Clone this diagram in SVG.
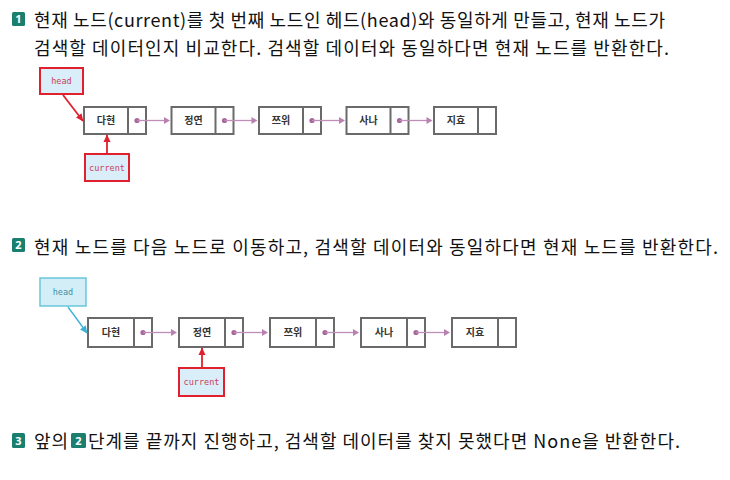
<svg xmlns="http://www.w3.org/2000/svg" width="730" height="480" viewBox="0 0 730 480">
<style>
.body{font-family:"Noto Sans CJK KR","Noto Sans",sans-serif;font-size:18px;fill:#111;}
.badge{fill:#1a7f6e;}
.bnum{font-family:"Noto Sans","DejaVu Sans",sans-serif;font-size:11px;font-weight:bold;fill:#fff;text-anchor:middle;}
.box{fill:#fff;stroke:#6a6a6a;stroke-width:2;}
.div{stroke:#6a6a6a;stroke-width:2;}
.nt{font-family:"Noto Sans CJK KR",sans-serif;font-size:10px;font-weight:bold;fill:#333;text-anchor:middle;}
.dot{fill:#a8679c;}
.link{stroke:#c08cb8;stroke-width:1.3;fill:none;}
.lhead{fill:#b881b0;}
.ptrR{fill:#d9eef8;stroke:#e0202e;stroke-width:2;}
.ptrC{fill:#d3eef7;stroke:#69c6dc;stroke-width:1.5;}
.ptR{font-family:"DejaVu Sans Mono","Liberation Mono",monospace;font-size:8.5px;fill:#c8405e;text-anchor:middle;}
.ptC{font-family:"DejaVu Sans Mono","Liberation Mono",monospace;font-size:8.5px;fill:#3f8fa6;text-anchor:middle;}
.arR{stroke:#e0202e;stroke-width:1.8;fill:none;}
.arC{stroke:#3ab2d6;stroke-width:1.3;fill:none;}
</style>
<defs>
<marker id="mR" markerWidth="8" markerHeight="8" refX="7" refY="4" orient="auto" markerUnits="userSpaceOnUse"><path d="M0,0.5 L7.5,4 L0,7.5 Z" fill="#e0202e"/></marker>
<marker id="mC" markerWidth="8" markerHeight="8" refX="7" refY="4" orient="auto" markerUnits="userSpaceOnUse"><path d="M0,0.5 L7.5,4 L0,7.5 Z" fill="#3ab2d6"/></marker>
</defs>

<!-- texts -->
<g id="step1-text">
<rect class="badge" x="12" y="12" width="13" height="14" rx="1.5"/>
<text class="bnum" x="18.5" y="23">1</text>
<text class="body" x="34" y="27" textLength="631" lengthAdjust="spacing">현재 노드(current)를 첫 번째 노드인 헤드(head)와 동일하게 만들고, 현재 노드가</text>
<text class="body" x="34" y="55" textLength="635" lengthAdjust="spacing">검색할 데이터인지 비교한다. 검색할 데이터와 동일하다면 현재 노드를 반환한다.</text>
</g>
<g id="step2-text">
<rect class="badge" x="12" y="238" width="13" height="14" rx="1.5"/>
<text class="bnum" x="18.5" y="249">2</text>
<text class="body" x="34" y="254" textLength="684" lengthAdjust="spacing">현재 노드를 다음 노드로 이동하고, 검색할 데이터와 동일하다면 현재 노드를 반환한다.</text>
</g>
<g id="step3-text">
<rect class="badge" x="12" y="433" width="13" height="15" rx="1.5"/>
<text class="bnum" x="18.5" y="444.5">3</text>
<text class="body" x="34" y="448" textLength="34" lengthAdjust="spacing">앞의</text>
<rect class="badge" x="71" y="433" width="15" height="15" rx="1.5"/>
<text class="bnum" x="78.5" y="444.5">2</text>
<text class="body" x="88" y="448" textLength="592" lengthAdjust="spacing">단계를 끝까지 진행하고, 검색할 데이터를 찾지 못했다면 None을 반환한다.</text>
</g>

<!-- diagram 1 nodes -->
<g id="d1-n1"><rect class="box" x="84" y="107" width="62" height="27"/><line class="div" x1="128" y1="107" x2="128" y2="134"/><text class="nt" x="106" y="124">다현</text><circle class="dot" cx="137" cy="120.5" r="2.6"/></g>
<g id="d1-n2"><rect class="box" x="171.5" y="107" width="62" height="27"/><line class="div" x1="215.5" y1="107" x2="215.5" y2="134"/><text class="nt" x="193.5" y="124">정연</text><circle class="dot" cx="224.5" cy="120.5" r="2.6"/></g>
<g id="d1-n3"><rect class="box" x="259" y="107" width="62" height="27"/><line class="div" x1="303" y1="107" x2="303" y2="134"/><text class="nt" x="281" y="124">쯔위</text><circle class="dot" cx="312" cy="120.5" r="2.6"/></g>
<g id="d1-n4"><rect class="box" x="346.5" y="107" width="62" height="27"/><line class="div" x1="390.5" y1="107" x2="390.5" y2="134"/><text class="nt" x="368.5" y="124">사나</text><circle class="dot" cx="399.5" cy="120.5" r="2.6"/></g>
<g id="d1-n5"><rect class="box" x="434" y="107" width="62" height="27"/><line class="div" x1="478" y1="107" x2="478" y2="134"/><text class="nt" x="456" y="124">지효</text></g>
<g id="d1-head"><rect class="ptrR" x="40" y="68" width="43" height="26"/><text class="ptR" x="61.5" y="84">head</text></g>
<g id="d1-current"><rect class="ptrR" x="85" y="154" width="44" height="27"/><text class="ptR" x="107" y="170.5">current</text></g>

<!-- diagram 2 nodes -->
<g id="d2-n1"><rect class="box" x="88" y="318" width="64" height="29"/><line class="div" x1="134" y1="318" x2="134" y2="347"/><text class="nt" x="111" y="336">다현</text><circle class="dot" cx="143" cy="332.5" r="2.6"/></g>
<g id="d2-n2"><rect class="box" x="179" y="318" width="64" height="29"/><line class="div" x1="225" y1="318" x2="225" y2="347"/><text class="nt" x="202" y="336">정연</text><circle class="dot" cx="234" cy="332.5" r="2.6"/></g>
<g id="d2-n3"><rect class="box" x="270" y="318" width="64" height="29"/><line class="div" x1="316" y1="318" x2="316" y2="347"/><text class="nt" x="293" y="336">쯔위</text><circle class="dot" cx="325" cy="332.5" r="2.6"/></g>
<g id="d2-n4"><rect class="box" x="361" y="318" width="64" height="29"/><line class="div" x1="407" y1="318" x2="407" y2="347"/><text class="nt" x="384" y="336">사나</text><circle class="dot" cx="416" cy="332.5" r="2.6"/></g>
<g id="d2-n5"><rect class="box" x="452" y="318" width="64" height="29"/><line class="div" x1="498" y1="318" x2="498" y2="347"/><text class="nt" x="475" y="336">지효</text></g>
<g id="d2-head"><rect class="ptrC" x="40" y="278" width="46" height="28"/><text class="ptC" x="63" y="295">head</text></g>
<g id="d2-current"><rect class="ptrR" x="179" y="368" width="45" height="28"/><text class="ptR" x="201.5" y="385">current</text></g>

<!-- connectors -->
<g id="connectors">
<line class="link" x1="137" y1="120.5" x2="165" y2="120.5"/><path class="lhead" d="M164,117 L170,120.5 L164,124 Z"/>
<line class="link" x1="224.5" y1="120.5" x2="252.5" y2="120.5"/><path class="lhead" d="M251.5,117 L257.5,120.5 L251.5,124 Z"/>
<line class="link" x1="312" y1="120.5" x2="340" y2="120.5"/><path class="lhead" d="M339,117 L345,120.5 L339,124 Z"/>
<line class="link" x1="399.5" y1="120.5" x2="427.5" y2="120.5"/><path class="lhead" d="M426.5,117 L432.5,120.5 L426.5,124 Z"/>
<line class="arR" x1="63" y1="95" x2="83" y2="121" marker-end="url(#mR)"/>
<line class="arR" x1="107" y1="153" x2="107" y2="135" marker-end="url(#mR)"/>

<line class="link" x1="143" y1="332.5" x2="172" y2="332.5"/><path class="lhead" d="M171,329 L177,332.5 L171,336 Z"/>
<line class="link" x1="234" y1="332.5" x2="263" y2="332.5"/><path class="lhead" d="M262,329 L268,332.5 L262,336 Z"/>
<line class="link" x1="325" y1="332.5" x2="354" y2="332.5"/><path class="lhead" d="M353,329 L359,332.5 L353,336 Z"/>
<line class="link" x1="416" y1="332.5" x2="445" y2="332.5"/><path class="lhead" d="M444,329 L450,332.5 L444,336 Z"/>
<line class="arC" x1="68" y1="307" x2="87" y2="333" marker-end="url(#mC)"/>
<line class="arR" x1="202" y1="367" x2="202" y2="348" marker-end="url(#mR)"/>
</g>
</svg>
